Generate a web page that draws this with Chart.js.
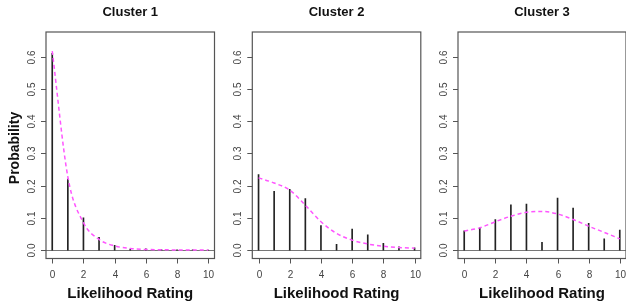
<!DOCTYPE html>
<html>
<head>
<meta charset="utf-8">
<script src="https://cdn.jsdelivr.net/npm/chart.js@4.4.0/dist/chart.umd.min.js"></script>
<style>
  body { margin: 0; background: #fff; }
  #wrap { position: relative; width: 626px; height: 305px; }
  #wrap canvas { position: absolute; left: 0; top: 0; }
</style>
</head>
<body>
<div id="wrap">
  <canvas id="c1" width="626" height="305"></canvas>
  <canvas id="c2" width="626" height="305"></canvas>
  <canvas id="c3" width="626" height="305"></canvas>
</div>
<script>
var ratings = [0, 1, 2, 3, 4, 5, 6, 7, 8, 9, 10];
var xTicks = [0, 2, 4, 6, 8, 10];
var yTicks = [0, 0.1, 0.2, 0.3, 0.4, 0.5, 0.6];
var yTickLabels = ['0.0', '0.1', '0.2', '0.3', '0.4', '0.5', '0.6'];
var titles = ['Cluster 1', 'Cluster 2', 'Cluster 3'];

var cluster1Obs = [0.61, 0.22, 0.10, 0.04, 0.015, 0.003, 0.004, 0.002, 0.001, 0.0005, 0];
var cluster1Fit = [0.617, 0.227, 0.085, 0.033, 0.013, 0.005, 0.002, 0.001, 0.0006, 0.0003, 0.0002];
var cluster2Obs = [0.234, 0.182, 0.188, 0.160, 0.076, 0.018, 0.065, 0.047, 0.021, 0.010, 0.007];
var cluster2Fit = [0.224, 0.208, 0.186, 0.139, 0.088, 0.052, 0.031, 0.019, 0.012, 0.008, 0.006];
var cluster3Obs = [0.060, 0.069, 0.095, 0.140, 0.143, 0.024, 0.161, 0.130, 0.083, 0.035, 0.062];
var cluster3Fit = [0.059, 0.069, 0.088, 0.105, 0.117, 0.120, 0.112, 0.095, 0.074, 0.055, 0.035];

var observed = [cluster1Obs, cluster2Obs, cluster3Obs];
var fitted = [cluster1Fit, cluster2Fit, cluster3Fit];

var boxLeft = [46, 252.3, 458];
var boxWidth = 168.5;
var font = '"Liberation Sans", Arial, sans-serif';

function toPoints(vals){
  return ratings.map(function(r, i){ return {x: r, y: vals[i]}; });
}

var rAxes = {
  id: 'rAxes',
  beforeDatasetsDraw: function(chart){
    var ctx = chart.ctx, a = chart.chartArea, ys = chart.scales.y;
    var y0 = Math.round(ys.getPixelForValue(0)) + 0.5;
    ctx.save();
    ctx.strokeStyle = '#777';
    ctx.lineWidth = 1;
    ctx.beginPath();
    ctx.moveTo(a.left, y0);
    ctx.lineTo(a.right, y0);
    ctx.stroke();
    ctx.restore();
  },
  afterDraw: function(chart, args, opts){
    var ctx = chart.ctx, a = chart.chartArea;
    var xs = chart.scales.x, ys = chart.scales.y;
    ctx.save();
    // box
    ctx.strokeStyle = '#555';
    ctx.lineWidth = 1.2;
    ctx.strokeRect(a.left, a.top, a.right - a.left, a.bottom - a.top);
    // x ticks
    ctx.lineWidth = 1;
    ctx.fillStyle = '#444';
    ctx.font = '10px ' + font;
    ctx.textAlign = 'center';
    ctx.textBaseline = 'middle';
    xTicks.forEach(function(t){
      var px = Math.round(xs.getPixelForValue(t)) + 0.5;
      ctx.beginPath();
      ctx.moveTo(px, a.bottom);
      ctx.lineTo(px, a.bottom + 5);
      ctx.stroke();
      ctx.fillText(String(t), px, a.bottom + 17);
    });
    // y ticks, rotated labels
    yTicks.forEach(function(t, i){
      var py = Math.round(ys.getPixelForValue(t)) + 0.5;
      ctx.beginPath();
      ctx.moveTo(a.left, py);
      ctx.lineTo(a.left - 5, py);
      ctx.stroke();
      ctx.save();
      ctx.translate(a.left - 14, py);
      ctx.rotate(-Math.PI / 2);
      ctx.fillText(yTickLabels[i], 0, 0);
      ctx.restore();
    });
    var cx = (a.left + a.right) / 2;
    ctx.fillStyle = '#111';
    ctx.font = 'bold 13px ' + font;
    ctx.fillText(opts.title, cx, 12);
    ctx.font = 'bold 15px ' + font;
    ctx.fillText('Likelihood Rating', cx, 294);
    if (opts.yLabel) {
      ctx.save();
      ctx.translate(15, 148);
      ctx.rotate(-Math.PI / 2);
      ctx.font = 'bold 14px ' + font;
      ctx.fillText('Probability', 0, 0);
      ctx.restore();
    }
    ctx.restore();
  }
};

[0, 1, 2].forEach(function(k){
  new Chart(document.getElementById('c' + (k + 1)), {
    type: 'bar',
    data: {
      datasets: [
        {
          type: 'line',
          data: toPoints(fitted[k]),
          borderColor: '#ff55ff',
          borderWidth: 1.5,
          borderDash: [4, 3],
          pointRadius: 0,
          fill: false,
          cubicInterpolationMode: 'monotone'
        },
        {
          type: 'bar',
          data: toPoints(observed[k]),
          backgroundColor: '#222',
          barThickness: 1
        }
      ]
    },
    options: {
      responsive: false,
      animation: false,
      layout: { padding: { left: boxLeft[k], right: 626 - boxLeft[k] - boxWidth, top: 32, bottom: 305 - 258.5 } },
      scales: {
        x: { type: 'linear', min: -0.4, max: 10.4, offset: false, display: false },
        y: { type: 'linear', min: -0.026, max: 0.676, display: false }
      },
      plugins: {
        legend: { display: false },
        tooltip: { enabled: false },
        rAxes: { title: titles[k], yLabel: k === 0 }
      }
    },
    plugins: [rAxes]
  });
});
</script>
</body>
</html>
